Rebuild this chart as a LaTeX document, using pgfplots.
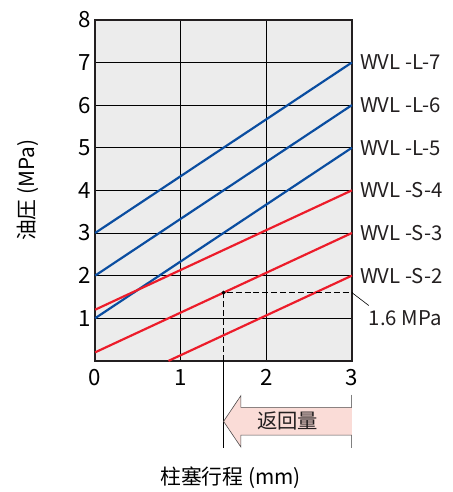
\documentclass[border=0pt]{standalone}
\usepackage{pgfplots}
\pgfplotsset{compat=1.18}
\usetikzlibrary{calc}
\usepackage{fontspec}
\setmainfont{Noto Sans CJK SC}
\definecolor{lblue}{HTML}{0A4DA0}
\definecolor{lred}{HTML}{EC1C2A}
\definecolor{bggray}{HTML}{ECECEC}
\definecolor{arrowpink}{HTML}{FADCD7}
\definecolor{txt}{HTML}{231F20}
\begin{document}
\begin{tikzpicture}[font=\fontsize{20.5}{24}\selectfont\color{txt}]
\begin{axis}[
    name=ax,
    scale only axis,
    width=259pt, height=344pt,
    xmin=0, xmax=3, ymin=0, ymax=8,
    xtick={0,1,2,3}, ytick={1,2,...,8},
    grid=major,
    major grid style={black, line width=0.8pt},
    axis line style={txt, line width=1.6pt},
    axis background/.style={fill=bggray},
    tick style={draw=none},
    /pgf/number format/assume math mode=true,
    ticklabel style={font=\fontsize{22.5}{26}\selectfont},
    xticklabel style={yshift=-5pt},
    yticklabel style={xshift=-1pt},
    clip=false,
]
% blue: WVL-L series
\addplot[lblue, line width=2.2pt] coordinates {(0,3) (3,7)};
\addplot[lblue, line width=2.2pt] coordinates {(0,2) (3,6)};
\addplot[lblue, line width=2.2pt] coordinates {(0,1) (3,5)};
% red: WVL-S series
\addplot[lred, line width=2.2pt] coordinates {(0,1.2) (3,4)};
\addplot[lred, line width=2.2pt] coordinates {(0,0.2) (3,3)};
\addplot[lred, line width=2.2pt] coordinates {(0.857,0) (3,2)};
% reading example at 1.6 MPa
\addplot[black, line width=1.3pt, dash pattern=on 6pt off 3pt] coordinates {(1.5,0) (1.5,1.6) (3,1.6)};
\addplot[black, only marks, mark=*, mark size=1.8pt] coordinates {(1.5,1.6)};

\foreach \v/\s in {7/L-7,6/L-6,5/L-5,4/S-4,3/S-3,2/S-2}{
  \edef\tmp{\noexpand\node[anchor=west, inner sep=0pt] at (axis cs:3,\v) [xshift=8pt] {WVL -\s};}
  \tmp
}
\draw[black, line width=0.6pt] (axis cs:3,1.6) -- ++(17pt,-13pt);
\node[anchor=west, inner sep=0pt] at (axis cs:3,1.6) [xshift=17pt, yshift=-26pt] {1.6 MPa};

% return stroke arrow
\draw[black, line width=0.7pt] (axis cs:1.5,0) -- (axis cs:1.5,-2.05);
\draw[gray, line width=1pt] (axis cs:3,-0.79) -- (axis cs:3,-2.05);
\draw[fill=arrowpink, draw=txt!80, line width=0.6pt]
  (axis cs:3,-1.093) -- (axis cs:1.703,-1.093) -- (axis cs:1.703,-0.814)
  -- (axis cs:1.5,-1.42) -- (axis cs:1.703,-2.023) -- (axis cs:1.703,-1.744)
  -- (axis cs:3,-1.744);
\node at (axis cs:2.25,-1.42) {返回量};
\end{axis}
\node[rotate=90, font=\fontsize{21}{25}\selectfont] at ($(ax.west)+(-68pt,0)$) {油圧 (MPa)};
\node[font=\fontsize{21}{25}\selectfont] at ($(ax.south)+(7pt,-118pt)$) {柱塞行程 (mm)};
\path ($(ax.south west)+(-96pt,-128pt)$) rectangle ($(ax.north east)+(101pt,20pt)$);
\end{tikzpicture}
\end{document}
